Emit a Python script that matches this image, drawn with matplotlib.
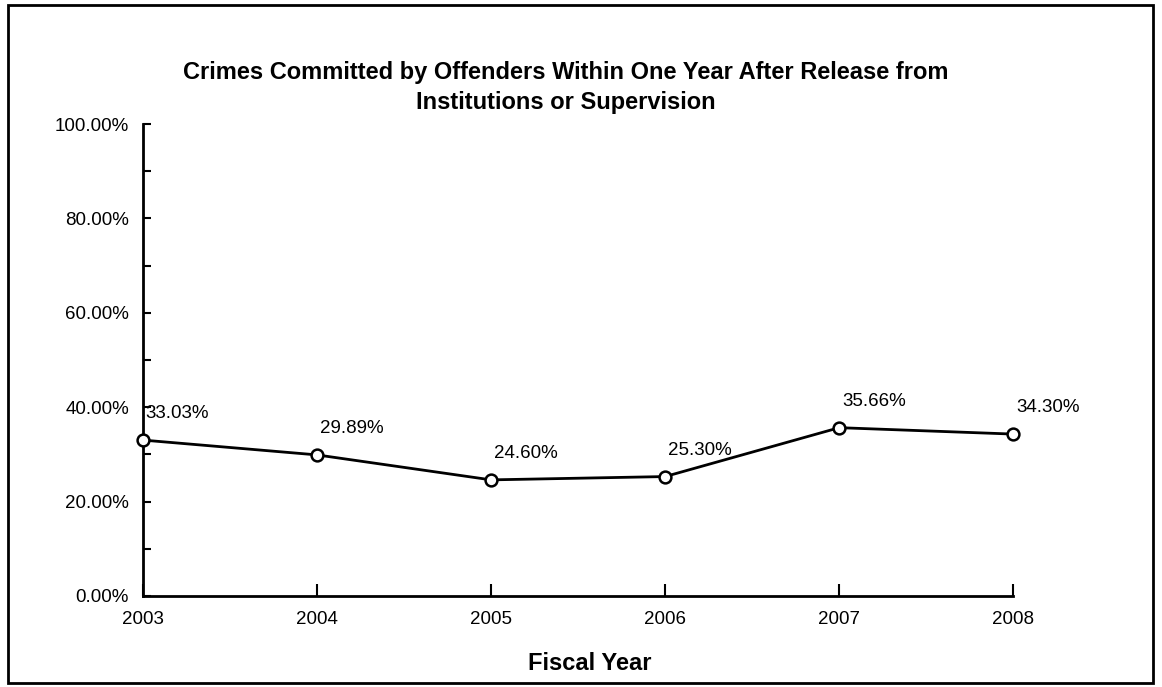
import matplotlib.pyplot as plt
from matplotlib.patches import Rectangle
from matplotlib.ticker import MultipleLocator, PercentFormatter

plt.rcParams['font.family'] = ['Liberation Sans', 'DejaVu Sans']

# data
years = [2003, 2004, 2005, 2006, 2007, 2008]
rates = [0.3303, 0.2989, 0.2460, 0.2530, 0.3566, 0.3430]
labels = ['33.03%', '29.89%', '24.60%', '25.30%', '35.66%', '34.30%']

fig = plt.figure(figsize=(11.62, 6.87), dpi=100)
ax = fig.add_axes([0.123, 0.1325, 0.749, 0.687])

ax.plot(years, rates, color='black', linewidth=2, marker='o', markersize=8.5,
        markerfacecolor='white', markeredgecolor='black', markeredgewidth=1.8,
        clip_on=False, zorder=3)

for x, y, lab in zip(years, rates, labels):
    ax.annotate(lab, (x, y), xytext=(2, 19), textcoords='offset points',
                ha='left', va='center', fontsize=13.5)

ax.set_xlim(2003, 2008)
ax.set_ylim(0, 1)
ax.set_xticks(years)
ax.yaxis.set_major_locator(MultipleLocator(0.2))
ax.yaxis.set_minor_locator(MultipleLocator(0.1))
ax.yaxis.set_major_formatter(PercentFormatter(1.0, decimals=2))
ax.tick_params(axis='y', which='both', direction='in', length=6, width=1.5,
               pad=10, labelsize=13.5)
ax.tick_params(axis='x', direction='in', length=9, width=1.5, pad=11, labelsize=13.5)

for side in ['top', 'right']:
    ax.spines[side].set_visible(False)
for side in ['left', 'bottom']:
    ax.spines[side].set_linewidth(2)

ax.set_xlabel('Fiscal Year', fontsize=17, fontweight='bold')
ax.xaxis.set_label_coords(0.513, -0.118)
fig.suptitle('Crimes Committed by Offenders Within One Year After Release from\n'
             'Institutions or Supervision', x=0.487, y=0.873, va='center',
             fontsize=17, fontweight='bold', linespacing=1.4)

# outer frame around the chart
fig.patches.append(Rectangle((0.007, 0.006), 0.985, 0.986, transform=fig.transFigure,
                             fill=False, edgecolor='black', linewidth=2))

fig.savefig('out.png', dpi=100)
